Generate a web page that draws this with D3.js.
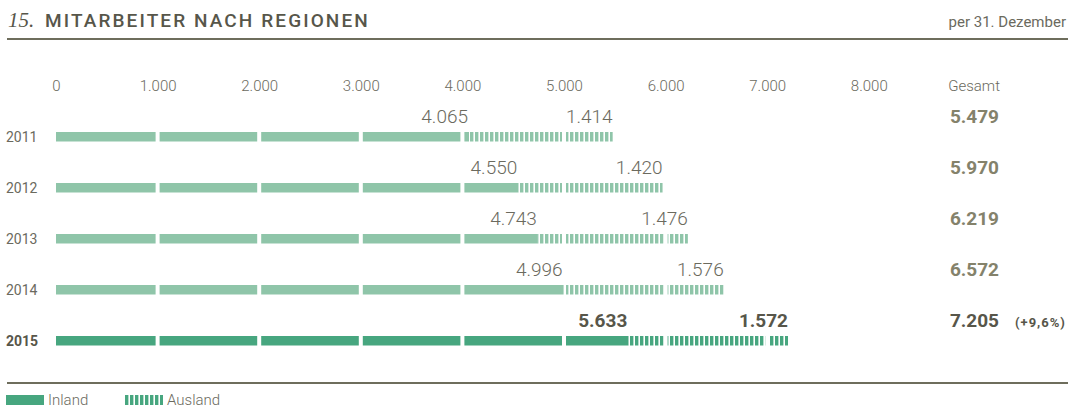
<!DOCTYPE html>
<html>
<head>
<meta charset="utf-8">
<script src="https://cdn.jsdelivr.net/npm/d3@7"></script>
<style>
  body { margin: 0; background: #fff; }
  svg { display: block; font-family: Roboto, "Noto Sans", sans-serif; }
</style>
</head>
<body>
<svg id="chart" width="1070" height="408"></svg>
<script>
// Data
var years = ['2011', '2012', '2013', '2014', '2015'];
var inland = [4065, 4550, 4743, 4996, 5633];
var ausland = [1414, 1420, 1476, 1576, 1572];
var gesamt = [5479, 5970, 6219, 6572, 7205];
var tickValues = [0, 1000, 2000, 3000, 4000, 5000, 6000, 7000, 8000];
var changeLabel = '(+9,6%)';

//Colours
var lightGreen = '#8fc5a9';
var darkGreen = '#47a67f';
var textDark = '#57564a';
var textGrey = '#6b6a5e';
var ruleColor = '#6e6d5c';

var svg = d3.select('#chart');
var de = d3.formatLocale({decimal: ',', thousands: '.', grouping: [3], currency: ['', '€']});
var fmt = de.format(',d');

var x = d3.scaleLinear().domain([0, 8000]).range([56, 56 + 8 * 101.6]);
var y = d3.scaleBand().domain(years).range([122, 377]).paddingInner(0);

//Stripe patterns for Ausland
var defs = svg.append('defs');
[['stripeLight', lightGreen], ['stripeDark', darkGreen]].forEach(function(p) {
  defs.append('pattern')
    .attr('id', p[0])
    .attr('patternUnits', 'userSpaceOnUse')
    .attr('width', 5)
    .attr('height', 20)
    .append('rect')
    .attr('x', 0).attr('y', 0)
    .attr('width', 3.4).attr('height', 20)
    .attr('fill', p[1]);
});

//Header
svg.append('text')
  .attr('x', 8).attr('y', 27)
  .attr('font-family', '"Liberation Serif", serif')
  .attr('font-style', 'italic')
  .attr('font-size', 21)
  .attr('fill', textDark)
  .text('15.');
svg.append('text')
  .attr('x', 45).attr('y', 27)
  .attr('font-size', 19)
  .attr('font-weight', 500)
  .attr('letter-spacing', 2.1)
  .attr('fill', textDark)
  .text('MITARBEITER NACH REGIONEN');
svg.append('text')
  .attr('x', 1066).attr('y', 27)
  .attr('text-anchor', 'end')
  .attr('font-size', 15)
  .attr('fill', textGrey)
  .text('per 31. Dezember');
svg.append('line')
  .attr('x1', 7).attr('x2', 1068)
  .attr('y1', 39).attr('y2', 39)
  .attr('stroke', ruleColor).attr('stroke-width', 2);

//Axis (labels only)
var axis = d3.axisTop(x).tickValues(tickValues).tickFormat(fmt).tickSize(0).tickPadding(0);
var axisG = svg.append('g').attr('transform', 'translate(0,91)').call(axis);
axisG.select('.domain').remove();
axisG.selectAll('text')
  .attr('font-family', 'Roboto, sans-serif')
  .attr('font-size', 15)
  .attr('font-weight', 300)
  .attr('fill', textGrey)
  .attr('dy', 0);
svg.append('text')
  .attr('x', 1000).attr('y', 91)
  .attr('text-anchor', 'end')
  .attr('font-size', 15)
  .attr('font-weight', 300)
  .attr('fill', textGrey)
  .text('Gesamt');

//Split a value range into pieces at every 1000 boundary
function pieces(a, b) {
  var out = [];
  var s = a;
  while (s < b) {
    var e = Math.min(b, (Math.floor(s / 1000) + 1) * 1000);
    out.push([s, e]);
    s = e;
  }
  return out;
}
function segX0(v) { return (v > 0 && v % 1000 === 0) ? x(v) + 2 : x(v); }
function segX1(v) { return (v % 1000 === 0) ? x(v) - 2 : x(v); }

var barH = 9.5;
years.forEach(function(yr, i) {
  var last = i === years.length - 1;
  var top = y(yr) + 10;
  var g = svg.append('g');

  //Year label
  g.append('text')
    .attr('x', 6).attr('y', top + barH)
    .attr('font-size', 14)
    .attr('font-weight', last ? 700 : 400)
    .attr('fill', last ? textDark : textGrey)
    .text(yr);

  //Inland bar
  g.selectAll('rect.inland')
    .data(pieces(0, inland[i]))
    .enter().append('rect')
    .attr('class', 'inland')
    .attr('x', function(d) { return segX0(d[0]); })
    .attr('width', function(d) { return Math.max(0, segX1(d[1]) - segX0(d[0])); })
    .attr('y', top).attr('height', barH)
    .attr('fill', last ? darkGreen : lightGreen);

  //Ausland bar
  g.selectAll('rect.ausland')
    .data(pieces(inland[i], inland[i] + ausland[i]))
    .enter().append('rect')
    .attr('class', 'ausland')
    .attr('x', function(d) { return segX0(d[0]); })
    .attr('width', function(d) { return Math.max(0, segX1(d[1]) - segX0(d[0])); })
    .attr('y', top).attr('height', barH)
    .attr('fill', last ? 'url(#stripeDark)' : 'url(#stripeLight)');

  //Value labels
  var valStyle = function(t) {
    t.attr('text-anchor', 'end')
      .attr('font-size', 19)
      .attr('font-weight', last ? 700 : 300)
      .attr('fill', last ? textDark : textGrey);
  };
  g.append('text')
    .attr('x', x(inland[i]) - 1).attr('y', top - 9)
    .call(valStyle)
    .text(fmt(inland[i]));
  g.append('text')
    .attr('x', x(inland[i] + ausland[i])).attr('y', top - 9)
    .call(valStyle)
    .text(fmt(ausland[i]));

  //Total
  g.append('text')
    .attr('x', 999).attr('y', top - 9)
    .attr('text-anchor', 'end')
    .attr('font-size', 19)
    .attr('font-weight', 700)
    .attr('fill', last ? textDark : '#84826b')
    .text(fmt(gesamt[i]));

  if (last) {
    g.append('text')
      .attr('x', 1015).attr('y', top - 9)
      .attr('font-size', 13)
      .attr('font-weight', 700)
      .attr('letter-spacing', 1)
      .attr('fill', textDark)
      .text(changeLabel);
  }
});

//Bottom rule + legend
svg.append('line')
  .attr('x1', 7).attr('x2', 1068)
  .attr('y1', 383).attr('y2', 383)
  .attr('stroke', ruleColor).attr('stroke-width', 2);

var legend = [['Inland', darkGreen, 6], ['Ausland', 'url(#stripeDark)', 125]];
legend.forEach(function(l) {
  svg.append('rect')
    .attr('x', l[2]).attr('y', 395)
    .attr('width', 38).attr('height', 10)
    .attr('fill', l[1]);
  svg.append('text')
    .attr('x', l[2] + 42).attr('y', 405)
    .attr('font-size', 15)
    .attr('font-weight', 300)
    .attr('fill', textGrey)
    .text(l[0]);
});
</script>
</body>
</html>
